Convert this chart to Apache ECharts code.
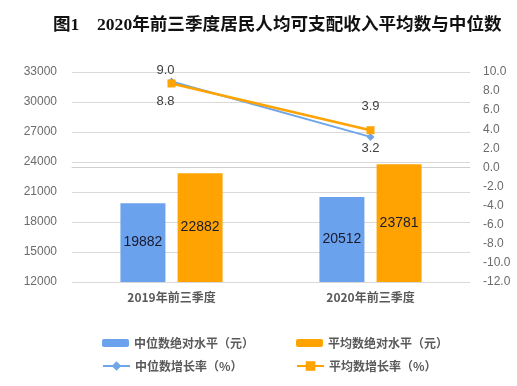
<!DOCTYPE html>
<html><head><meta charset="utf-8">
<script src="https://cdn.jsdelivr.net/npm/echarts@6/dist/echarts.min.js"></script>
<style>html,body{margin:0;padding:0;background:#fff}#c{width:517px;height:386px}</style>
</head><body><div id="c"></div>
<script>
var categories = ['2019年前三季度', '2020年前三季度'];
var medianLevel = [19882, 20512];
var meanLevel = [22882, 23781];
var medianGrowth = [9.0, 3.2];
var meanGrowth = [8.8, 3.9];
var seriesNames = ['中位数绝对水平（元）', '平均数绝对水平（元）', '中位数增长率（%）', '平均数增长率（%）'];

var BLUE = '#6aa2ee', ORANGE = '#ffa302', LBLUE = '#6ea6e8';
var chart = echarts.init(document.getElementById('c'));
var legendText = {fontSize: 12, fontWeight: 'bold', color: '#595959', fontFamily: 'Noto Sans CJK SC'};
var lineLabel = {show: true, fontSize: 13, color: '#404040', fontFamily: 'Liberation Sans', formatter: function (p) { return p.value.toFixed(1); }};
chart.setOption({
  animation: false,
  title: {
    text: '图1　2020年前三季度居民人均可支配收入平均数与中位数',
    left: 48, top: 12,
    textStyle: {fontSize: 17.6, fontWeight: 'bold', color: '#111', fontFamily: '"Liberation Serif", "Noto Sans CJK SC"'}
  },
  grid: {left: 72, right: 47, top: 72, bottom: 104},
  legend: [
    {data: [seriesNames[0]], left: 97, top: 332, itemWidth: 27, itemHeight: 8, textStyle: legendText, itemGap: 4},
    {data: [seriesNames[1]], left: 291, top: 332, itemWidth: 27, itemHeight: 8, textStyle: legendText},
    {data: [seriesNames[2]], left: 97, top: 355, itemWidth: 27, itemHeight: 12, textStyle: legendText},
    {data: [seriesNames[3]], left: 291, top: 355, itemWidth: 27, itemHeight: 12, textStyle: legendText}
  ],
  xAxis: {
    type: 'category', data: categories,
    axisLine: {lineStyle: {color: '#d0d0d0'}},
    axisTick: {show: false},
    axisLabel: {fontSize: 12, fontWeight: 'bold', color: '#595959', margin: 9, fontFamily: 'Noto Sans CJK SC'}
  },
  yAxis: [
    {type: 'value', min: 12000, max: 33000, interval: 3000,
     axisLabel: {fontSize: 12, color: '#6b6b6b', margin: 15, fontFamily: 'Liberation Sans', formatter: function (v) { return String(v); }},
     splitLine: {lineStyle: {color: '#d9d9d9'}}, axisLine: {show: false}, axisTick: {show: false}},
    {type: 'value', min: -12, max: 10, interval: 2,
     axisLabel: {fontSize: 12, color: '#6b6b6b', margin: 13, fontFamily: 'Liberation Sans', formatter: function (v) { return v.toFixed(1); }},
     splitLine: {show: false}, axisLine: {show: false}, axisTick: {show: false}}
  ],
  series: [
    {name: seriesNames[0], type: 'bar', data: medianLevel, barWidth: 45, barGap: '27%', itemStyle: {color: BLUE},
     label: {show: true, position: 'inside', fontSize: 14, color: '#1a1a2e', fontFamily: 'Liberation Sans'}},
    {name: seriesNames[1], type: 'bar', data: meanLevel, barWidth: 45, itemStyle: {color: ORANGE},
     label: {show: true, position: 'inside', fontSize: 14, color: '#1a1a2e', fontFamily: 'Liberation Sans'}},
    {name: seriesNames[2], type: 'line', yAxisIndex: 1, data: [
        {value: medianGrowth[0], label: {position: 'top', distance: 1, offset: [-6, 0]}},
        {value: medianGrowth[1], label: {position: 'bottom', distance: 1}}],
     symbol: 'diamond', symbolSize: 8, lineStyle: {color: LBLUE, width: 2}, itemStyle: {color: LBLUE},
     label: lineLabel, z: 3},
    {name: seriesNames[3], type: 'line', yAxisIndex: 1, data: [
        {value: meanGrowth[0], label: {position: 'bottom', distance: 7, offset: [-6, 0]}},
        {value: meanGrowth[1], label: {position: 'top', distance: 13}}],
     symbol: 'rect', symbolSize: 8, lineStyle: {color: ORANGE, width: 2.5}, itemStyle: {color: ORANGE},
     label: lineLabel, z: 4}
  ]
});
</script></body></html>
